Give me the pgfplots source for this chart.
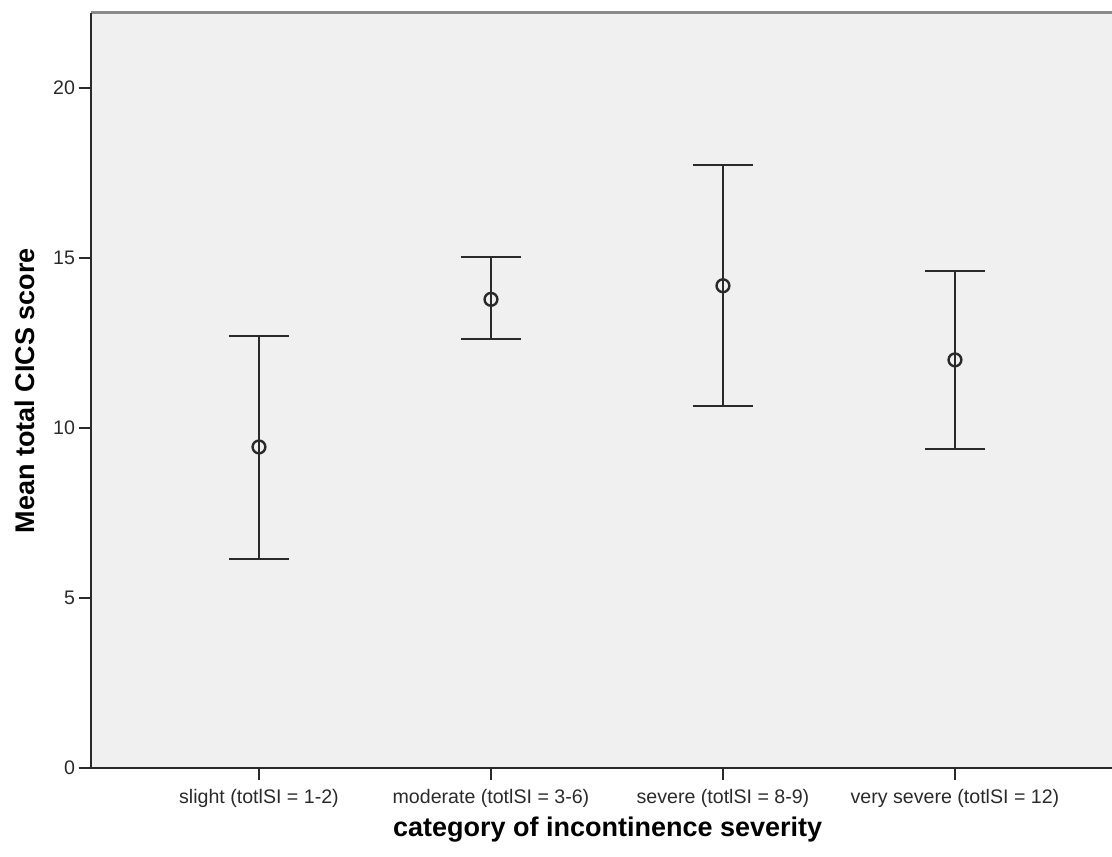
\documentclass[border=0pt]{standalone}
\usepackage{pgfplots}
\pgfplotsset{compat=1.18}
\usepackage{fontspec}
\setmainfont{Liberation Sans}
\definecolor{bg}{HTML}{F0F0F0}
\definecolor{ink}{HTML}{2A2A2A}
\definecolor{topline}{HTML}{8A8A8A}
\begin{document}
\begin{tikzpicture}
\path[use as bounding box] (-45.5pt,-44pt) rectangle (510.5pt,384pt);
\begin{axis}[
  at={(0,0)}, anchor=south west,
  scale only axis,
  width=510.5pt, height=377.5pt,
  xmin=-0.724, xmax=3.677,
  ymin=0, ymax=22.2,
  axis background/.style={fill=bg},
  axis line style={draw=none},
  xtick={0,1,2,3},
  xticklabels={slight (totlSI = 1-2), moderate (totlSI = 3-6), severe (totlSI = 8-9), very severe (totlSI = 12)},
  ytick={0,5,10,15,20},
  tick align=outside,
  major tick length=6pt,
  tick style={ink, line width=1pt},
  xtick pos=bottom, ytick pos=left,
  ticklabel style={font=\fontsize{9.8pt}{11pt}\selectfont, text=ink},
  yticklabel style={xshift=1.5pt},
  xticklabel style={yshift=-1pt},
  /pgf/number format/assume math mode=true,
  xlabel={\textbf{category of incontinence severity}},
  ylabel={\textbf{Mean total CICS score}},
  xlabel style={font=\fontsize{13.5pt}{15pt}\selectfont, at={(axis description cs:0.506,-0.0821)}, anchor=center},
  ylabel style={font=\fontsize{13.5pt}{15pt}\selectfont, at={(axis description cs:-0.0646,0.5)}, anchor=center, rotate=0},
  clip=false,
]
% axis frame lines
\draw[topline, line width=1.5pt] (rel axis cs:0,1) -- (rel axis cs:1,1);
\draw[ink, line width=1.2pt] (rel axis cs:0,0) -- (rel axis cs:1,0);
\draw[ink, line width=1.2pt] (rel axis cs:0,0) -- (rel axis cs:0,1);
\addplot[
  only marks,
  mark=o, mark size=3.2pt,
  mark options={ink, line width=1.2pt},
  error bars/.cd,
    y dir=both, y explicit,
    error mark options={ink, line width=1pt, rotate=90, mark size=15pt},
    error bar style={ink, line width=1pt},
] table[x=x, y=y, y error plus=ep, y error minus=em] {
x y ep em
0 9.44 3.27 3.29
1 13.78 1.24 1.17
2 14.18 3.56 3.53
3 12.00 2.62 2.62
};
\end{axis}
\end{tikzpicture}
\end{document}
